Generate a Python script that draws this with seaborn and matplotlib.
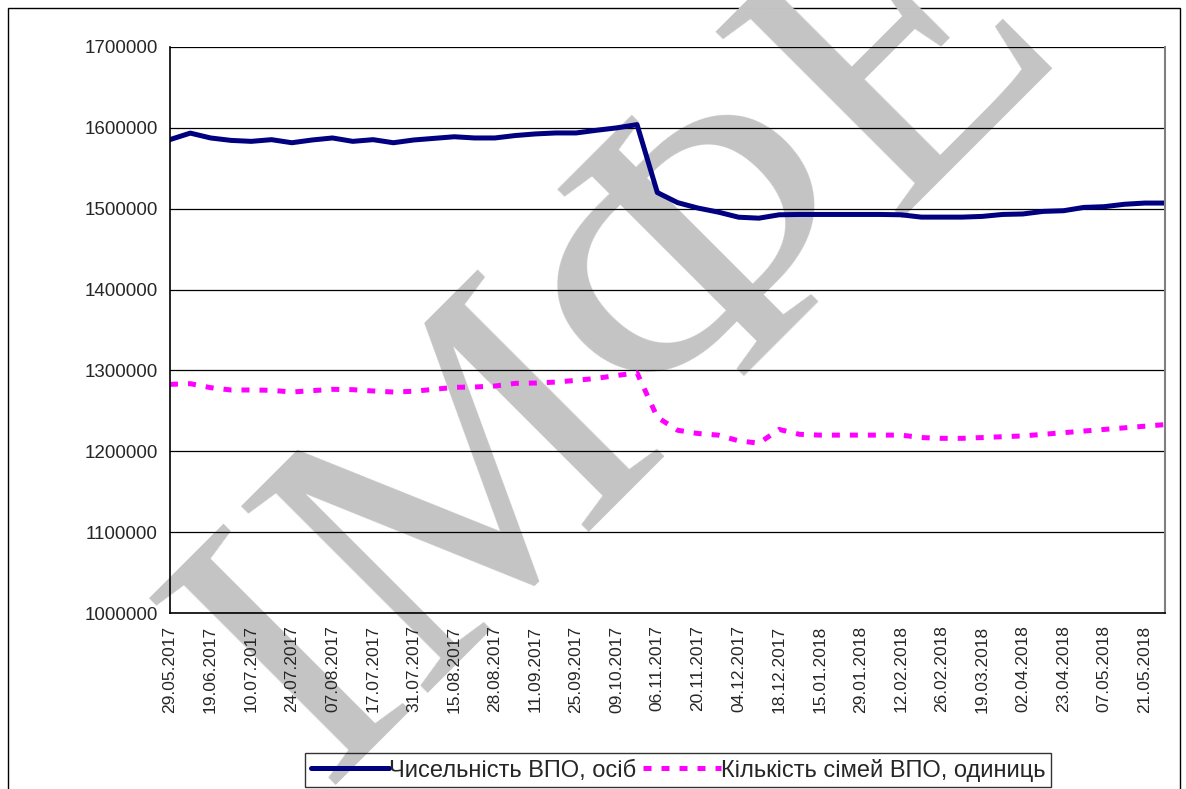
# imports
import matplotlib
matplotlib.use("Agg")
import matplotlib.pyplot as plt
import seaborn as sns
import numpy as np
import pandas as pd
from matplotlib.patches import Rectangle

# data (one value per category on the x axis)
date_labels = ['29.05.2017', '19.06.2017', '10.07.2017', '24.07.2017', '07.08.2017',
               '17.07.2017', '31.07.2017', '15.08.2017', '28.08.2017', '11.09.2017',
               '25.09.2017', '09.10.2017', '06.11.2017', '20.11.2017', '04.12.2017',
               '18.12.2017', '15.01.2018', '29.01.2018', '12.02.2018', '26.02.2018',
               '19.03.2018', '02.04.2018', '23.04.2018', '07.05.2018', '21.05.2018']

persons = [1585500, 1593500, 1587500, 1584500, 1583300, 1585400, 1581600, 1585000,
           1587500, 1583300, 1585400, 1581600, 1585000, 1587000, 1589000, 1587500,
           1587500, 1590500, 1592500, 1593700, 1593700, 1597000, 1600000, 1604000,
           1520000, 1507500, 1500800, 1495800, 1489500, 1488300, 1492500, 1492900,
           1492900, 1492900, 1492900, 1492900, 1492500, 1489600, 1489600, 1489600,
           1490500, 1492900, 1493500, 1496700, 1497500, 1501600, 1502500, 1505500,
           1507000, 1507000]

families = [1282800, 1283600, 1278700, 1275800, 1275800, 1275400, 1273300, 1275000,
            1276600, 1276200, 1274600, 1273300, 1274200, 1276600, 1279100, 1279500,
            1280700, 1284000, 1284400, 1285600, 1287700, 1290200, 1293800, 1297000,
            1242000, 1226000, 1222000, 1220000, 1213000, 1210000, 1227000, 1221000,
            1220000, 1220000, 1220000, 1220000, 1220000, 1217000, 1216000, 1216000,
            1217000, 1218000, 1219000, 1221000, 1223000, 1225000, 1227000, 1229000,
            1231000, 1233000]

y_ticks = [1000000, 1100000, 1200000, 1300000, 1400000, 1500000, 1600000, 1700000]

label_persons = 'Чисельність ВПО, осіб'
label_families = 'Кількість сімей ВПО, одиниць'

df = pd.DataFrame({'idx': np.arange(len(persons)), 'persons': persons, 'families': families})

sns.set_style("white")
plt.rcParams['font.family'] = ['Liberation Sans', 'DejaVu Sans']

W, H = 1186, 789
fig = plt.figure(figsize=(W / 100, H / 100), dpi=100)

# chart area border
fig.patches.append(Rectangle((8 / W, -0.05), 1172 / W, (H - 8) / H + 0.05,
                             transform=fig.transFigure, fill=False,
                             edgecolor='black', linewidth=1.0, zorder=0))

# watermark
fig.text(625 / W, 1 - 345 / H, 'ІМФЕ', rotation=45, fontsize=290,
         family='Liberation Serif', color='#c4c4c4', ha='center', va='center', zorder=0)

ax = fig.add_axes([170 / W, (H - 613) / H, 995 / W, 566 / H])
ax.set_facecolor('none')
ax.set_zorder(1)

sns.lineplot(data=df, x='idx', y='persons', ax=ax, color='#000080', linewidth=3.6,
             label=label_persons, solid_joinstyle='round', solid_capstyle='round')
sns.lineplot(data=df, x='idx', y='families', ax=ax, color='#ff00ff', linewidth=3.6,
             label=label_families, linestyle=(0, (1.6, 2.0)))

# axes setup
ax.set_xlim(0, len(persons) - 1)
ax.set_ylim(y_ticks[0], y_ticks[-1])
ax.set_yticks(y_ticks)
ax.set_yticklabels([str(v) for v in y_ticks], fontsize=13.5)
ax.yaxis.grid(True, color='black', linewidth=0.9)
ax.set_axisbelow(True)

ticks = np.arange(len(persons))
tick_labels = ['' for _ in ticks]
for k, lab in enumerate(date_labels):
    tick_labels[2 * k] = lab
ax.set_xticks(ticks)
ax.set_xticklabels(tick_labels, rotation=90, fontsize=12.5)
ax.tick_params(axis='x', direction='out', length=6, width=1, color='black', pad=3)
ax.tick_params(axis='y', direction='out', length=6, width=1, color='black', pad=3)
ax.set_xlabel('')
ax.set_ylabel('')

for side in ['left', 'bottom']:
    ax.spines[side].set_color('black')
    ax.spines[side].set_linewidth(1.2)
ax.spines['top'].set_visible(False)
ax.spines['right'].set_color('#808080')
ax.spines['right'].set_linewidth(1.5)

leg = ax.legend(loc='center', bbox_to_anchor=(678 / W, 1 - 770 / H),
                bbox_transform=fig.transFigure, ncol=2, frameon=True, fancybox=False,
                edgecolor='black', facecolor='none', fontsize=17, handlelength=3.3,
                handletextpad=0.0, columnspacing=0.3, borderpad=0.25)
leg.get_frame().set_linewidth(1.0)

fig.savefig('out.png', dpi=100)
